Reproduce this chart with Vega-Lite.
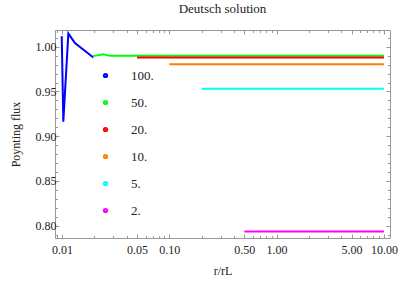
{
  "$schema": "https://vega.github.io/schema/vega-lite/v6.json",
  "width": 335,
  "height": 208,
  "autosize": {"type": "none"},
  "padding": {"left": 55, "top": 30, "right": 25, "bottom": 44},
  "background": "white",
  "config": {
    "view": {"stroke": "#999999", "strokeWidth": 1},
    "font": "Liberation Serif"
  },
  "title": {
    "text": "Deutsch solution",
    "font": "Liberation Serif",
    "fontSize": 13,
    "fontWeight": "normal",
    "color": "#222222",
    "anchor": "middle",
    "offset": 14
  },
  "data": {
    "values": [
      {"s": "100.", "x": 0.00994, "y": 1.0117},
      {"s": "100.", "x": 0.01028, "y": 0.9162},
      {"s": "100.", "x": 0.01145, "y": 1.0147},
      {"s": "100.", "x": 0.0132, "y": 1.004},
      {"s": "100.", "x": 0.0196, "y": 0.988},
      {"s": "50.", "x": 0.0195, "y": 0.9895},
      {"s": "50.", "x": 0.0242, "y": 0.9915},
      {"s": "50.", "x": 0.028, "y": 0.9898},
      {"s": "50.", "x": 10, "y": 0.9898},
      {"s": "20.", "x": 0.05, "y": 0.988},
      {"s": "20.", "x": 10, "y": 0.988},
      {"s": "10.", "x": 0.1, "y": 0.9805},
      {"s": "10.", "x": 10, "y": 0.9805},
      {"s": "5.", "x": 0.2, "y": 0.953},
      {"s": "5.", "x": 10, "y": 0.953},
      {"s": "2.", "x": 0.5, "y": 0.7937},
      {"s": "2.", "x": 10, "y": 0.7937}
    ]
  },
  "resolve": {"axis": {"x": "independent", "y": "independent"}},
  "layer": [
    {
      "mark": {"type": "line", "strokeWidth": 2, "clip": true},
      "encoding": {
        "x": {
          "field": "x", "type": "quantitative",
          "scale": {"type": "log", "domain": [0.0086, 11.4], "nice": false},
          "axis": {
            "orient": "bottom",
            "title": "r/rL",
            "titleFont": "Liberation Serif",
            "titleFontSize": 12,
            "titleFontWeight": "normal",
            "titleColor": "#222222",
            "titlePadding": 9,
            "values": [0.009, 0.01, 0.02, 0.03, 0.04, 0.05, 0.06, 0.07, 0.08, 0.09, 0.1, 0.2, 0.3, 0.4, 0.5, 0.6, 0.7, 0.8, 0.9, 1, 2, 3, 4, 5, 6, 7, 8, 9, 10],
            "labelExpr": "indexof([0.01,0.05,0.1,0.5,1,5,10], datum.value) >= 0 ? format(datum.value, '.2f') : ''",
            "labelFont": "Liberation Serif",
            "labelFontSize": 12,
            "labelColor": "#222222",
            "labelPadding": 10,
            "labelFlush": false,
            "labelOverlap": false,
            "domain": false,
            "grid": false,
            "tickColor": "#999999",
            "tickSize": {"condition": {"test": "indexof([0.01,0.05,0.1,0.5,1,5,10], datum.value) >= 0", "value": -4}, "value": -2.5}
          }
        },
        "y": {
          "field": "y", "type": "quantitative",
          "scale": {"domain": [0.7863, 1.0187], "nice": false, "zero": false},
          "axis": {
            "orient": "left",
            "title": "Poynting flux",
            "titleFont": "Liberation Serif",
            "titleFontSize": 12,
            "titleFontWeight": "normal",
            "titleColor": "#222222",
            "titlePadding": 13,
            "values": [0.79, 0.8, 0.81, 0.82, 0.83, 0.84, 0.85, 0.86, 0.87, 0.88, 0.89, 0.9, 0.91, 0.92, 0.93, 0.94, 0.95, 0.96, 0.97, 0.98, 0.99, 1.0, 1.01],
            "labelExpr": "abs(datum.value*20 - round(datum.value*20)) < 0.001 ? format(datum.value, '.2f') : ''",
            "labelFont": "Liberation Serif",
            "labelFontSize": 12,
            "labelColor": "#222222",
            "labelPadding": 3,
            "labelFlush": false,
            "labelOverlap": false,
            "domain": false,
            "grid": false,
            "tickColor": "#999999",
            "tickSize": {"condition": {"test": "abs(datum.value*20 - round(datum.value*20)) < 0.001", "value": -4}, "value": -2.5}
          }
        },
        "color": {
          "field": "s", "type": "nominal",
          "scale": {
            "domain": ["100.", "50.", "20.", "10.", "5.", "2."],
            "range": ["#0000ff", "#00ff00", "#ff0000", "#ff8000", "#00ffff", "#ff00ff"]
          },
          "legend": {
            "orient": "none",
            "legendX": 44,
            "legendY": 39,
            "title": null,
            "padding": 0,
            "labelFont": "Liberation Serif",
            "labelFontSize": 13,
            "labelColor": "#222222",
            "labelOffset": 19,
            "symbolType": "circle",
            "symbolSize": 5,
            "symbolStrokeWidth": 3,
            "rowPadding": 12
          }
        }
      }
    },
    {
      "mark": {"type": "line", "opacity": 0},
      "encoding": {
        "x": {
          "field": "x", "type": "quantitative",
          "scale": {"type": "log", "domain": [0.0086, 11.4], "nice": false},
          "axis": {
            "orient": "top", "title": null, "labels": false, "domain": false, "grid": false,
            "values": [0.009, 0.01, 0.02, 0.03, 0.04, 0.05, 0.06, 0.07, 0.08, 0.09, 0.1, 0.2, 0.3, 0.4, 0.5, 0.6, 0.7, 0.8, 0.9, 1, 2, 3, 4, 5, 6, 7, 8, 9, 10],
            "tickColor": "#999999",
            "tickSize": {"condition": {"test": "indexof([0.01,0.05,0.1,0.5,1,5,10], datum.value) >= 0", "value": -4}, "value": -2.5}
          }
        },
        "y": {
          "field": "y", "type": "quantitative",
          "scale": {"domain": [0.7863, 1.0187], "nice": false, "zero": false},
          "axis": {
            "orient": "right", "title": null, "labels": false, "domain": false, "grid": false,
            "values": [0.79, 0.8, 0.81, 0.82, 0.83, 0.84, 0.85, 0.86, 0.87, 0.88, 0.89, 0.9, 0.91, 0.92, 0.93, 0.94, 0.95, 0.96, 0.97, 0.98, 0.99, 1.0, 1.01],
            "tickColor": "#999999",
            "tickSize": {"condition": {"test": "abs(datum.value*20 - round(datum.value*20)) < 0.001", "value": -4}, "value": -2.5}
          }
        },
        "detail": {"field": "s", "type": "nominal"}
      }
    }
  ]
}
